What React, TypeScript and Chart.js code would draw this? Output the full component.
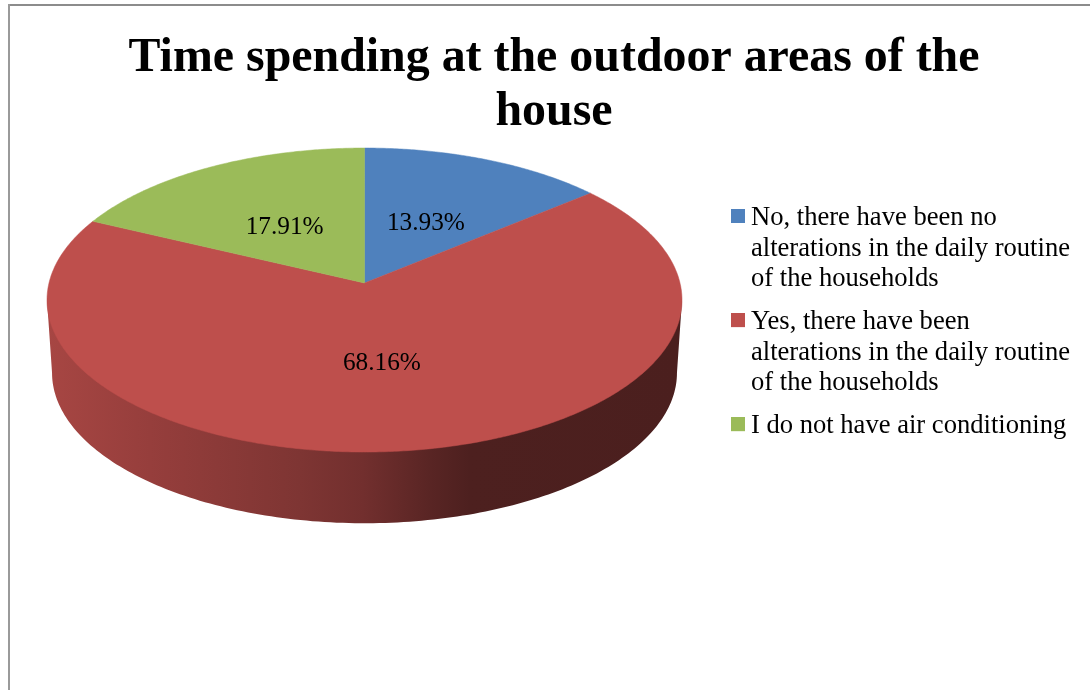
import React, { useEffect, useRef } from "react";
import { Chart, registerables } from "chart.js";

Chart.register(...registerables);

const titleLines = ["Time spending at the outdoor areas of the", "house"];
const categories = [
  ["No, there have been no", "alterations in the daily routine", "of the households"],
  ["Yes, there have been", "alterations in the daily routine", "of the households"],
  ["I do not have air conditioning"],
];
const shares = [13.93, 68.16, 17.91];
const sliceColors = ["#4F81BD", "#BE4F4C", "#9BBB59"];

const FONT = "'Liberation Serif', 'Times New Roman', serif";

const topFace = { cx: 364.5, cy: 283, a: 315.5, b: 150.1, k: 0.112 };
const bottomFace = { cx: 364.5, cy: 356, a: 310.5, b: 148.5, k: 0.112 };
const labelRadius = 0.49;
const labelNudgeX = [-1, -3, -1];
const sideStops: [number, number][] = [
  [47, 0.88],
  [150, 0.79],
  [300, 0.665],
  [363, 0.6],
  [430, 0.47],
  [470, 0.405],
  [682, 0.395],
];

type Face = typeof topFace;

function project(f: Face, r: number, theta: number) {
  const u = r * Math.cos(theta);
  const v = -r * Math.sin(theta);
  const w = 1 + f.k * v;
  return { x: f.cx + (f.a * u) / w, y: f.cy - (f.b * v) / w };
}

function shade(hex: string, m: number) {
  const n = parseInt(hex.slice(1), 16);
  const c = [(n >> 16) & 255, (n >> 8) & 255, n & 255].map((x) => Math.round(x * m));
  return `rgb(${c[0]},${c[1]},${c[2]})`;
}

function legendSwatch(color: string) {
  const c = document.createElement("canvas");
  c.width = 15;
  c.height = 18;
  const g = c.getContext("2d")!;
  g.fillStyle = color;
  g.fillRect(1, 0, 14, 14);
  return c;
}

const pie3d = {
  id: "pie3d",
  beforeDraw(chart: any) {
    const { ctx, width, height } = chart;
    ctx.save();
    ctx.fillStyle = "#8c8c8c";
    ctx.fillRect(8, 4, width - 8, 2);
    ctx.fillStyle = "#9a9a9a";
    ctx.fillRect(8, 4, 2, height - 4);
    ctx.restore();
  },
  afterLayout(chart: any) {
    const lg = chart.legend;
    const w = lg.right - lg.left;
    const h = lg.bottom - lg.top;
    lg.left = 725.35;
    lg.right = lg.left + w;
    lg.top = 192.7;
    lg.bottom = lg.top + h;
  },
  beforeDatasetsDraw(chart: any) {
    const { ctx } = chart;
    const arcs = chart.getDatasetMeta(0).data;
    const STEP = Math.PI / 180;
    const frontStart = Math.asin(topFace.k);
    const frontEnd = Math.PI - frontStart;
    ctx.save();
    arcs.forEach((arc: any) => {
      const lo = Math.max(arc.startAngle, frontStart);
      const hi = Math.min(arc.endAngle, frontEnd);
      if (lo >= hi) return;
      const color = arc.options.backgroundColor;
      const grad = ctx.createLinearGradient(47, 0, 682, 0);
      sideStops.forEach(([x, m]) => grad.addColorStop((x - 47) / 635, shade(color, m)));
      ctx.beginPath();
      let p = project(topFace, 1, lo);
      ctx.moveTo(p.x, p.y);
      for (let t = lo + STEP; t < hi; t += STEP) {
        p = project(topFace, 0.985, t);
        ctx.lineTo(p.x, p.y);
      }
      p = project(topFace, 1, hi);
      ctx.lineTo(p.x, p.y);
      for (let t = hi; t > lo; t -= STEP) {
        p = project(bottomFace, 1, t);
        ctx.lineTo(p.x, p.y);
      }
      p = project(bottomFace, 1, lo);
      ctx.lineTo(p.x, p.y);
      ctx.closePath();
      ctx.fillStyle = grad;
      ctx.fill();
    });
    arcs.forEach((arc: any) => {
      const { startAngle, endAngle } = arc;
      const color = arc.options.backgroundColor;
      ctx.beginPath();
      const c = project(topFace, 0, 0);
      ctx.moveTo(c.x, c.y);
      for (let t = startAngle; t < endAngle; t += STEP / 2) {
        const p = project(topFace, 1, t);
        ctx.lineTo(p.x, p.y);
      }
      const e = project(topFace, 1, endAngle);
      ctx.lineTo(e.x, e.y);
      ctx.closePath();
      ctx.fillStyle = color;
      ctx.strokeStyle = color;
      ctx.lineWidth = 0.5;
      ctx.fill();
      ctx.stroke();
    });
    ctx.fillStyle = "#000";
    ctx.font = `25.3px ${FONT}`;
    ctx.textAlign = "center";
    ctx.textBaseline = "middle";
    arcs.forEach((arc: any, i: number) => {
      const p = project(topFace, labelRadius, (arc.startAngle + arc.endAngle) / 2);
      ctx.fillText(`${shares[i].toFixed(2)}%`, p.x + labelNudgeX[i], p.y + 3.5);
    });
    ctx.restore();
    return false;
  },
};

export default function App() {
  const ref = useRef<HTMLCanvasElement>(null);
  useEffect(() => {
    const baseLabels = (Chart.overrides as any).doughnut.plugins.legend.labels.generateLabels;
    const chart = new Chart(ref.current!, {
      type: "pie",
      data: {
        labels: categories as any,
        datasets: [{ data: shares, backgroundColor: sliceColors, borderWidth: 0 }],
      },
      options: {
        responsive: false,
        animation: false,
        layout: { padding: { left: 18, right: 0, top: 31.4, bottom: 0 } },
        plugins: {
          tooltip: { enabled: false },
          title: {
            display: true,
            text: titleLines,
            color: "#000",
            font: { family: FONT, size: 47.9, weight: "bold", lineHeight: 1.127 },
            padding: { top: 0, bottom: 6 },
          },
          legend: {
            display: true,
            position: "right",
            align: "start",
            labels: {
              color: "#000",
              font: { family: FONT, size: 26.6, lineHeight: 1.154 },
              usePointStyle: true,
              boxWidth: 0.3,
              boxHeight: 14,
              padding: 12,
              generateLabels: (c: any) =>
                baseLabels(c).map((item: any, i: number) => ({
                  ...item,
                  pointStyle: legendSwatch(sliceColors[i]),
                })),
            },
          },
        },
      },
      plugins: [pie3d],
    } as any);
    return () => chart.destroy();
  }, []);
  return (
    <canvas
      ref={ref}
      width={1090}
      height={690}
      style={{ position: "absolute", left: 0, top: 0, display: "block" }}
    />
  );
}
